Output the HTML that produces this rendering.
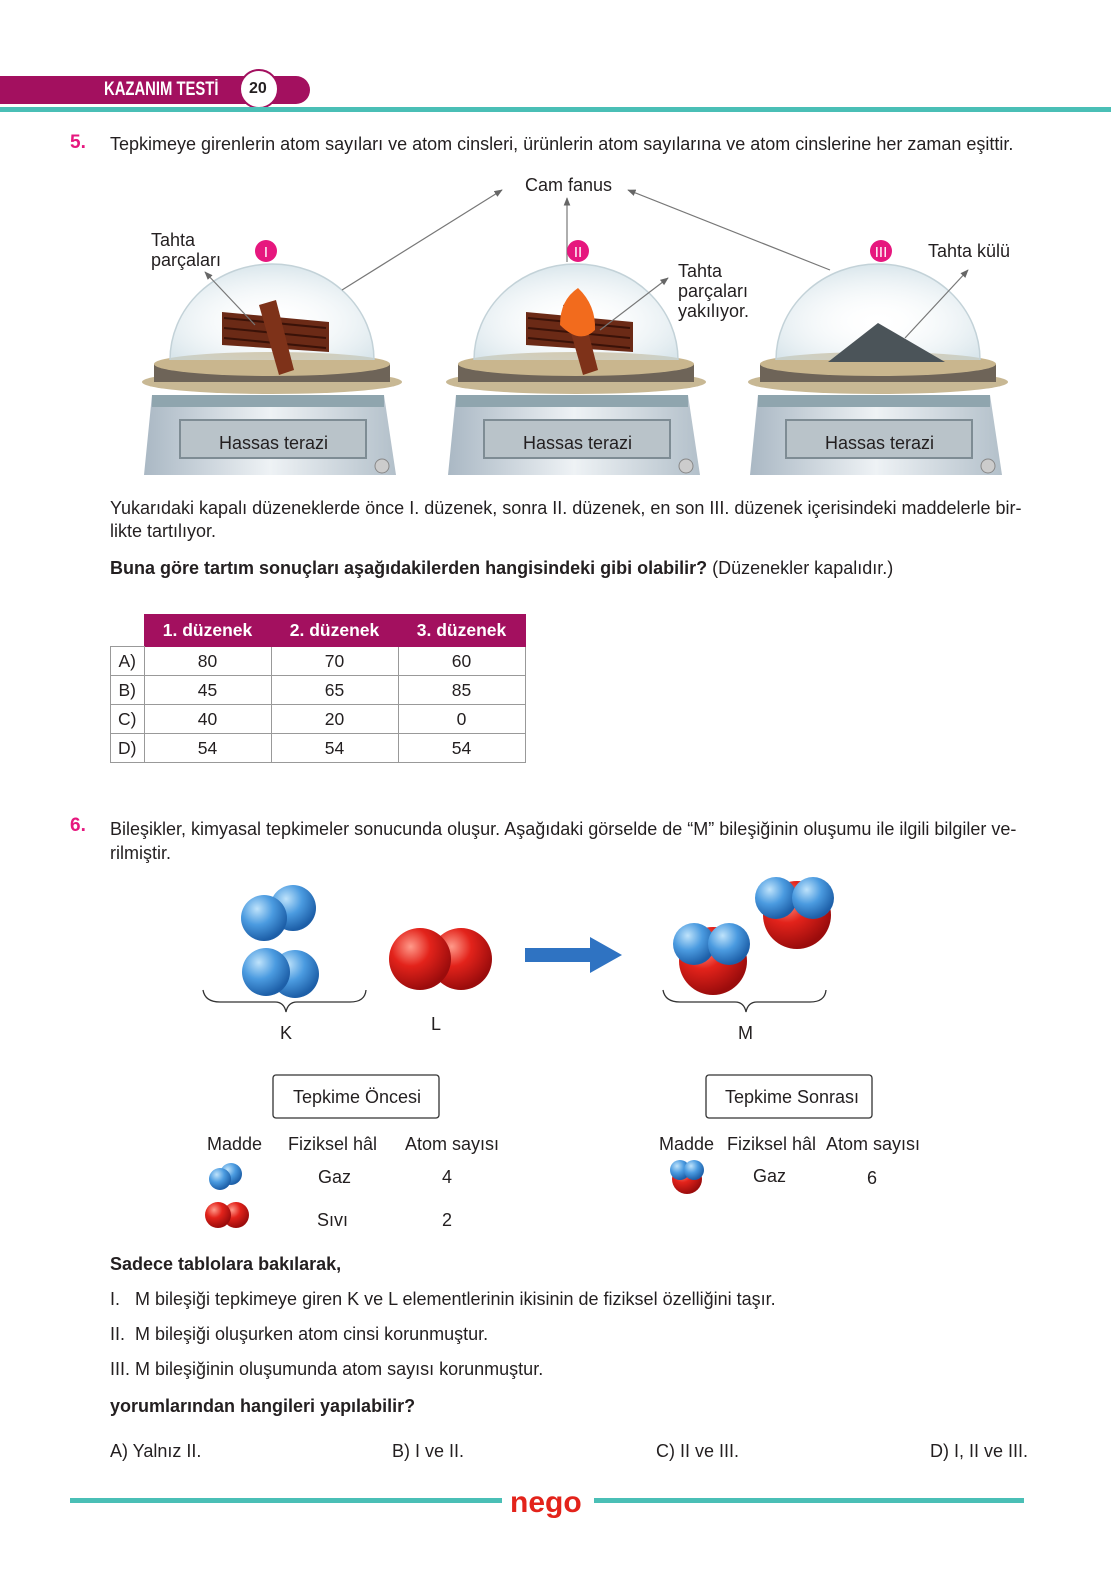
<!DOCTYPE html>
<html><head><meta charset="utf-8"><style>
body{margin:0;width:1111px;height:1593px;background:#fff;position:relative;font-family:"Liberation Sans",sans-serif;color:#231f20;overflow:hidden}
.t{position:absolute;font-size:18px;white-space:nowrap}
.b{font-weight:bold}
table{position:absolute;left:110px;top:614px;border-collapse:collapse;font-size:17.5px}
td{border:1px solid #999;height:28px;text-align:center;padding:0}
th{background:#a3105f;color:#fff;height:29px;font-size:17.5px;border:1px solid #a3105f}
</style></head><body>
<svg width="1111" height="1593" style="position:absolute;left:0;top:0">
<defs>
<marker id="ar" viewBox="0 0 10 10" refX="9" refY="5" markerWidth="7" markerHeight="7" orient="auto"><path d="M0 1 L10 5 L0 9 Z" fill="#666"/></marker>
<radialGradient id="bl" cx="35%" cy="30%" r="70%"><stop offset="0" stop-color="#bfe3fb"/><stop offset="0.5" stop-color="#4b9be0"/><stop offset="1" stop-color="#1d5fa8"/></radialGradient>
<radialGradient id="rd" cx="35%" cy="30%" r="70%"><stop offset="0" stop-color="#ff9a8a"/><stop offset="0.45" stop-color="#e3231b"/><stop offset="1" stop-color="#9b0c0c"/></radialGradient>
<linearGradient id="body" x1="0" x2="1"><stop offset="0" stop-color="#aab8c4"/><stop offset="0.5" stop-color="#eef2f5"/><stop offset="1" stop-color="#b3c0ca"/></linearGradient>
<radialGradient id="dome" cx="50%" cy="60%" r="60%"><stop offset="0" stop-color="#fff" stop-opacity="0"/><stop offset="1" stop-color="#c9dbe3" stop-opacity="0.7"/></radialGradient>
<g id="scale">
<path d="M-120 395 L112 395 L124 475 L-128 475 Z" fill="url(#body)"/>
<rect x="-120" y="395" width="232" height="12" fill="#8fa5ae"/>
<rect x="-92" y="420" width="186" height="38" fill="#b9c3c9" stroke="#7e8c94" stroke-width="2"/>
<circle cx="110" cy="466" r="7" fill="#ccc" stroke="#888"/>
<ellipse cx="0" cy="382" rx="130" ry="12" fill="#c8b894"/>
<rect x="-118" y="364" width="236" height="18" fill="#6e6458"/>
<ellipse cx="0" cy="364" rx="118" ry="12" fill="#c9b68e"/>
<path d="M-102 360 A102 96 0 0 1 102 360" fill="url(#dome)" stroke="#c3d2d8" stroke-width="1.5"/>
</g>
<g id="wood">
<path d="M-52 312 L55 322 L55 352 L-52 345 Z" fill="#6b2a16"/>
<path d="M-50 318 L52 328 M-50 328 L52 338 M-50 338 L52 348" stroke="#3a1208" stroke-width="2"/>
<path d="M-15 305 L2 300 L20 370 L5 375 Z" fill="#7e3219"/>
</g>
</defs>
<path d="M0 76 H296 A14 14 0 0 1 296 104 H0Z" fill="#a3105f"/>
<circle cx="259" cy="89" r="19" fill="#fff" stroke="#a3105f" stroke-width="2"/>
<rect x="0" y="107" width="1111" height="5" fill="#4abfb6"/>
<use href="#scale" x="272"/><use href="#scale" x="576"/><use href="#scale" x="878"/>
<use href="#wood" x="274"/><use href="#wood" x="578"/>
<path d="M560 325 Q560 300 578 288 Q596 305 595 330 Q580 345 560 325Z" fill="#f26b1d"/>
<path d="M828 362 L878 323 L945 362Z" fill="#4b5459"/>
<g stroke="#777" stroke-width="1.2" fill="none" marker-end="url(#ar)">
<line x1="342" y1="290" x2="502" y2="190"/><line x1="567" y1="262" x2="567" y2="198"/>
<line x1="830" y1="270" x2="628" y2="190"/><line x1="255" y1="325" x2="205" y2="272"/>
<line x1="600" y1="330" x2="668" y2="278"/><line x1="905" y1="338" x2="968" y2="270"/>
</g>
<circle cx="266" cy="251" r="11" fill="#e6177e"/><circle cx="578" cy="251" r="11" fill="#e6177e"/><circle cx="881" cy="251" r="11" fill="#e6177e"/>
<text x="266" y="257" fill="#fff" font-size="15" text-anchor="middle" font-family="Liberation Sans">I</text>
<text x="578" y="257" fill="#fff" font-size="15" text-anchor="middle" font-family="Liberation Sans">II</text>
<text x="881" y="257" fill="#fff" font-size="15" text-anchor="middle" font-family="Liberation Sans">III</text>
<circle cx="293" cy="908" r="23" fill="url(#bl)"/><circle cx="264" cy="918" r="23" fill="url(#bl)"/>
<circle cx="295" cy="974" r="24" fill="url(#bl)"/><circle cx="266" cy="972" r="24" fill="url(#bl)"/>
<circle cx="461" cy="959" r="31" fill="url(#rd)"/><circle cx="420" cy="959" r="31" fill="url(#rd)"/>
<path d="M525 948 H590 V937 L622 955 L590 973 V962 H525Z" fill="#2f73c2"/>
<circle cx="713" cy="961" r="34" fill="url(#rd)"/><circle cx="694" cy="944" r="21" fill="url(#bl)"/><circle cx="729" cy="944" r="21" fill="url(#bl)"/>
<circle cx="797" cy="915" r="34" fill="url(#rd)"/><circle cx="776" cy="898" r="21" fill="url(#bl)"/><circle cx="813" cy="898" r="21" fill="url(#bl)"/>
<g stroke="#333" fill="none" stroke-width="1.3">
<path d="M203 990 Q205 1002 220 1002 H275 Q284 1002 286 1012 Q288 1002 297 1002 H350 Q365 1002 366 990"/>
<path d="M663 990 Q665 1002 680 1002 H735 Q744 1002 746 1012 Q748 1002 757 1002 H810 Q825 1002 826 990"/>
</g>
<rect x="273" y="1075" width="166" height="43" rx="3" fill="none" stroke="#333" stroke-width="1.3"/>
<rect x="706" y="1075" width="166" height="43" rx="3" fill="none" stroke="#333" stroke-width="1.3"/>
<circle cx="231" cy="1174" r="11" fill="url(#bl)"/><circle cx="220" cy="1179" r="11" fill="url(#bl)"/>
<circle cx="236" cy="1215" r="13" fill="url(#rd)"/><circle cx="218" cy="1215" r="13" fill="url(#rd)"/>
<circle cx="687" cy="1179" r="15" fill="url(#rd)"/><circle cx="680" cy="1170" r="10" fill="url(#bl)"/><circle cx="694" cy="1170" r="10" fill="url(#bl)"/>
<rect x="70" y="1498" width="432" height="5" fill="#4abfb6"/><rect x="594" y="1498" width="430" height="5" fill="#4abfb6"/>
<text x="510" y="1512" fill="#e3231b" font-size="30" font-weight="bold" font-family="Liberation Sans">nego</text>
</svg>
<div class="t b" style="left:104px;top:79px;color:#fff;font-size:19px;transform:scaleX(0.78);transform-origin:left">KAZANIM TESTİ</div>
<div class="t b" style="left:249px;top:80px;font-size:16px">20</div>
<div class="t b" style="left:70px;top:132px;color:#e6177e;font-size:19px">5.</div>
<div class="t" style="left:110px;top:134px">Tepkimeye girenlerin atom sayıları ve atom cinsleri, ürünlerin atom sayılarına ve atom cinslerine her zaman eşittir.</div>
<div class="t" style="left:525px;top:175px">Cam fanus</div>
<div class="t" style="left:151px;top:230px;line-height:20px">Tahta<br>parçaları</div>
<div class="t" style="left:678px;top:261px;line-height:20px">Tahta<br>parçaları<br>yakılıyor.</div>
<div class="t" style="left:928px;top:241px">Tahta külü</div>
<div class="t" style="left:219px;top:433px">Hassas terazi</div>
<div class="t" style="left:523px;top:433px">Hassas terazi</div>
<div class="t" style="left:825px;top:433px">Hassas terazi</div>
<div class="t" style="left:110px;top:497px;line-height:23px">Yukarıdaki kapalı düzeneklerde önce I. düzenek, sonra II. düzenek, en son III. düzenek içerisindeki maddelerle bir-<br>likte tartılıyor.</div>
<div class="t" style="left:110px;top:558px"><b>Buna göre tartım sonuçları aşağıdakilerden hangisindeki gibi olabilir?</b> (Düzenekler kapalıdır.)</div>
<table>
<tr><th style="background:#fff;border:none;border-bottom:1px solid #999;width:31px"></th><th style="width:124px">1. düzenek</th><th style="width:124px">2. düzenek</th><th style="width:124px">3. düzenek</th></tr>
<tr><td>A)</td><td>80</td><td>70</td><td>60</td></tr>
<tr><td>B)</td><td>45</td><td>65</td><td>85</td></tr>
<tr><td>C)</td><td>40</td><td>20</td><td>0</td></tr>
<tr><td>D)</td><td>54</td><td>54</td><td>54</td></tr>
</table>
<div class="t b" style="left:70px;top:815px;color:#e6177e;font-size:19px">6.</div>
<div class="t" style="left:110px;top:817px;line-height:24px">Bileşikler, kimyasal tepkimeler sonucunda oluşur. Aşağıdaki görselde de “M” bileşiğinin oluşumu ile ilgili bilgiler ve-<br>rilmiştir.</div>
<div class="t" style="left:280px;top:1023px">K</div>
<div class="t" style="left:431px;top:1014px">L</div>
<div class="t" style="left:738px;top:1023px">M</div>
<div class="t" style="left:293px;top:1087px">Tepkime Öncesi</div>
<div class="t" style="left:725px;top:1087px">Tepkime Sonrası</div>
<div class="t" style="left:207px;top:1134px">Madde</div>
<div class="t" style="left:288px;top:1134px">Fiziksel hâl</div>
<div class="t" style="left:405px;top:1134px">Atom sayısı</div>
<div class="t" style="left:659px;top:1134px">Madde</div>
<div class="t" style="left:727px;top:1134px">Fiziksel hâl</div>
<div class="t" style="left:826px;top:1134px">Atom sayısı</div>
<div class="t" style="left:318px;top:1167px">Gaz</div><div class="t" style="left:442px;top:1167px">4</div>
<div class="t" style="left:317px;top:1210px">Sıvı</div><div class="t" style="left:442px;top:1210px">2</div>
<div class="t" style="left:753px;top:1166px">Gaz</div><div class="t" style="left:867px;top:1168px">6</div>
<div class="t b" style="left:110px;top:1254px">Sadece tablolara bakılarak,</div>
<div class="t" style="left:110px;top:1289px">I.&nbsp;&nbsp; M bileşiği tepkimeye giren K ve L elementlerinin ikisinin de fiziksel özelliğini taşır.</div>
<div class="t" style="left:110px;top:1324px">II.&nbsp; M bileşiği oluşurken atom cinsi korunmuştur.</div>
<div class="t" style="left:110px;top:1359px">III. M bileşiğinin oluşumunda atom sayısı korunmuştur.</div>
<div class="t b" style="left:110px;top:1396px">yorumlarından hangileri yapılabilir?</div>
<div class="t" style="left:110px;top:1441px">A) Yalnız II.</div>
<div class="t" style="left:392px;top:1441px">B) I ve II.</div>
<div class="t" style="left:656px;top:1441px">C) II ve III.</div>
<div class="t" style="left:930px;top:1441px">D) I, II ve III.</div>
</body></html>
